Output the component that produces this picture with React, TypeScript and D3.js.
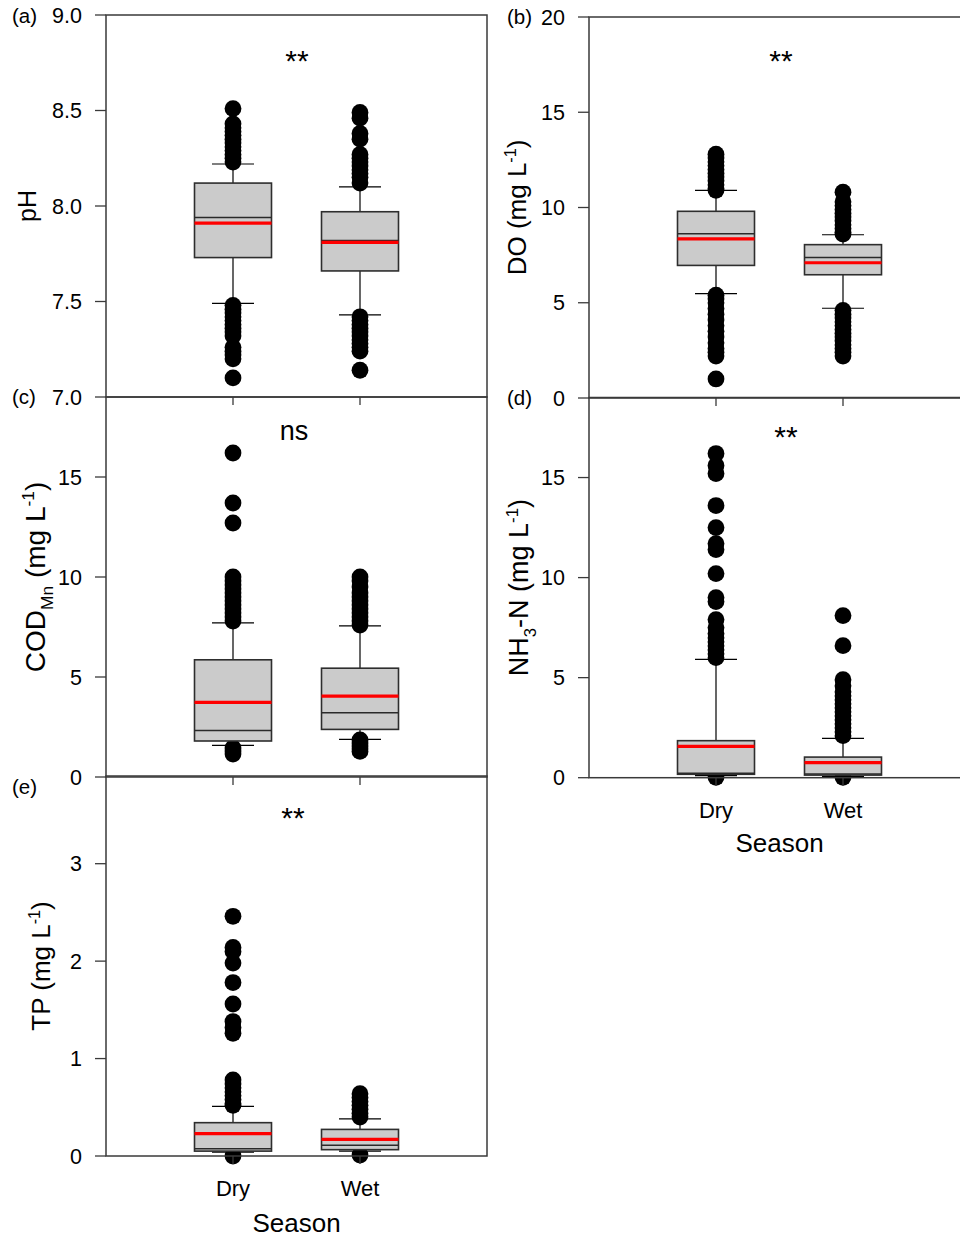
import React from "react";
import * as d3 from "d3";

// ---------------- DATA ----------------
const seasons = ["Dry", "Wet"];

// per season: [lower whisker, Q1, median, Q3, upper whisker, mean]
const pHStats = [
  [7.49, 7.73, 7.94, 8.12, 8.22, 7.91],
  [7.43, 7.66, 7.82, 7.97, 8.10, 7.81],
];
const pHOutliers = [
  [8.51, 8.43, 8.41, 8.39, 8.37, 8.35, 8.33, 8.31, 8.29, 8.27, 8.25, 8.23,
   7.48, 7.46, 7.44, 7.42, 7.40, 7.38, 7.36, 7.34, 7.32, 7.26, 7.24, 7.22, 7.20, 7.10],
  [8.49, 8.46, 8.38, 8.35, 8.27, 8.25, 8.23, 8.21, 8.19, 8.17, 8.15, 8.12,
   7.42, 7.40, 7.38, 7.36, 7.34, 7.32, 7.30, 7.28, 7.26, 7.24, 7.14],
];
const pHTicks = [7.0, 7.5, 8.0, 8.5, 9.0];

const doStats = [
  [5.48, 6.96, 8.62, 9.80, 10.90, 8.35],
  [4.71, 6.47, 7.37, 8.05, 8.57, 7.10],
];
const doOutliers = [
  [12.8, 12.6, 12.4, 12.2, 12.0, 11.8, 11.6, 11.4, 11.2, 11.0, 10.9,
   5.4, 5.2, 5.0, 4.7, 4.4, 4.1, 3.8, 3.5, 3.2, 2.9, 2.6, 2.4, 2.2, 1.0],
  [10.8, 10.3, 10.1, 9.9, 9.7, 9.5, 9.3, 9.1, 8.9, 8.7, 8.6,
   4.6, 4.4, 4.2, 4.0, 3.8, 3.6, 3.4, 3.2, 3.0, 2.8, 2.6, 2.4, 2.2],
];
const doTicks = [0, 5, 10, 15, 20];

const codStats = [
  [1.58, 1.80, 2.32, 5.86, 7.71, 3.73],
  [1.88, 2.38, 3.21, 5.44, 7.56, 4.04],
];
const codOutliers = [
  [16.2, 13.7, 12.7, 10.0, 9.8, 9.6, 9.4, 9.2, 9.0, 8.8, 8.6, 8.4, 8.2, 8.0, 7.8,
   1.45, 1.3, 1.15],
  [10.0, 9.8, 9.5, 9.2, 9.0, 8.8, 8.6, 8.4, 8.2, 8.0, 7.8, 7.6,
   1.85, 1.7, 1.55, 1.4, 1.28],
];
const codTicks = [0, 5, 10, 15];

const nh3Stats = [
  [0.10, 0.17, 0.22, 1.85, 5.91, 1.57],
  [0.06, 0.13, 0.18, 1.03, 1.97, 0.75],
];
const nh3Outliers = [
  [16.2, 15.6, 15.2, 13.6, 12.5, 11.7, 11.4, 10.2, 9.0, 8.8, 7.9, 7.5, 7.2, 7.0,
   6.8, 6.6, 6.4, 6.2, 6.0, 0.02],
  [8.1, 6.6, 4.9, 4.6, 4.3, 4.1, 3.9, 3.7, 3.5, 3.3, 3.1, 2.9, 2.7, 2.5, 2.3, 2.1, 0.02],
];
const nh3Ticks = [0, 5, 10, 15];

const tpStats = [
  [0.04, 0.05, 0.075, 0.342, 0.51, 0.23],
  [0.05, 0.065, 0.11, 0.273, 0.38, 0.17],
];
const tpOutliers = [
  [2.46, 2.14, 2.10, 1.98, 1.78, 1.56, 1.38, 1.32, 1.26, 0.78, 0.74, 0.70, 0.66,
   0.62, 0.58, 0.54, 0.52, 0.0],
  [0.64, 0.60, 0.56, 0.52, 0.48, 0.44, 0.40, 0.01],
];
const tpTicks = [0, 1, 2, 3];

// ---------------- LAYOUT ----------------
const FONT = "'Liberation Sans', Arial, Helvetica, sans-serif";
const PW = 381;
const BOX_W = 77;
const CAP_W = 42;
const DOT_R = 8.4;
const AXIS = "#3a3a3a";

type Seg = { t: string; sub?: boolean; sup?: boolean };

const panels = [
  {
    letter: "(a)", left: 106, top: 15, bottom: 397, domain: [7, 9],
    stats: pHStats, outliers: pHOutliers, ticks: pHTicks, fmt: d3.format(".1f"),
    title: [{ t: "pH" }] as Seg[], titleSize: 25, titleX: 36, titleDy: 0,
    ann: "**", annX: 297, annY: 56, letterDy: 8, letterX: 12, xlabels: false,
  },
  {
    letter: "(b)", left: 589, top: 17, bottom: 398, domain: [0, 20],
    stats: doStats, outliers: doOutliers, ticks: doTicks, fmt: d3.format("d"),
    title: [{ t: "DO (mg L" }, { t: "-1", sup: true }, { t: ")" }] as Seg[],
    titleSize: 26, titleX: 526, titleDy: 0,
    ann: "**", annX: 781, annY: 56, letterDy: 7, letterX: 507, xlabels: false,
  },
  {
    letter: "(c)", left: 106, top: 397, bottom: 777, domain: [0, 19],
    stats: codStats, outliers: codOutliers, ticks: codTicks, fmt: d3.format("d"),
    title: [{ t: "COD" }, { t: "Mn", sub: true }, { t: " (mg L" }, { t: "-1", sup: true }, { t: ")" }] as Seg[],
    titleSize: 28, titleX: 45, titleDy: -10,
    ann: "ns", annX: 294, annY: 432, letterDy: 7, letterX: 12, xlabels: false,
  },
  {
    letter: "(d)", left: 589, top: 397.5, bottom: 777.7, domain: [0, 19],
    stats: nh3Stats, outliers: nh3Outliers, ticks: nh3Ticks, fmt: d3.format("d"),
    title: [{ t: "NH" }, { t: "3", sub: true }, { t: "-N (mg L" }, { t: "-1", sup: true }, { t: ")" }] as Seg[],
    titleSize: 27, titleX: 528, titleDy: 0,
    ann: "**", annX: 786, annY: 432, letterDy: 7, letterX: 507, xlabels: true, seasonDy: 74,
  },
  {
    letter: "(e)", left: 106, top: 776, bottom: 1156, domain: [0, 3.9],
    stats: tpStats, outliers: tpOutliers, ticks: tpTicks, fmt: d3.format("d"),
    title: [{ t: "TP (mg L" }, { t: "-1", sup: true }, { t: ")" }] as Seg[],
    titleSize: 26, titleX: 50, titleDy: 0,
    ann: "**", annX: 293, annY: 813, letterDy: 18, letterX: 12, xlabels: true, seasonDy: 76,
  },
];

function Title({ segs, size, x, y }: { segs: Seg[]; size: number; x: number; y: number }) {
  let cur = 0;
  const parts = segs.map((s, i) => {
    const target = s.sub ? size * 0.28 : s.sup ? -size * 0.38 : 0;
    const dy = target - cur;
    cur = target;
    return (
      <tspan key={i} dy={dy} fontSize={s.sub || s.sup ? size * 0.62 : size}>
        {s.t}
      </tspan>
    );
  });
  return (
    <text transform={`translate(${x},${y}) rotate(-90)`} textAnchor="middle" fontSize={size} fill="#000">
      {parts}
    </text>
  );
}

function Panel({ p }: { p: any }) {
  const y = d3.scaleLinear().domain(p.domain).range([p.bottom, p.top]);
  const x = d3.scalePoint<string>().domain(seasons).range([p.left, p.left + PW]).padding(1);
  const midY = (p.top + p.bottom) / 2;
  return (
    <g>
      {/* outlier dots (behind boxes) */}
      {seasons.map((s, i) =>
        p.outliers[i].map((v: number, j: number) => (
          <circle key={s + j} cx={x(s)} cy={y(v)} r={DOT_R} fill="#000" />
        ))
      )}
      {/* boxes */}
      {seasons.map((s, i) => {
        const [lo, q1, med, q3, hi, mean] = p.stats[i];
        const cx = x(s) as number;
        return (
          <g key={s}>
            <line x1={cx} x2={cx} y1={y(q3)} y2={y(hi)} stroke="#000" strokeWidth={1.2} />
            <line x1={cx} x2={cx} y1={y(q1)} y2={y(lo)} stroke="#000" strokeWidth={1.2} />
            <line x1={cx - CAP_W / 2} x2={cx + CAP_W / 2} y1={y(hi)} y2={y(hi)} stroke="#000" strokeWidth={1.2} />
            <line x1={cx - CAP_W / 2} x2={cx + CAP_W / 2} y1={y(lo)} y2={y(lo)} stroke="#000" strokeWidth={1.2} />
            <rect x={cx - BOX_W / 2} y={y(q3)} width={BOX_W} height={y(q1) - y(q3)}
              fill="#cbcbcb" stroke="#2e2e2e" strokeWidth={1.6} />
            <line x1={cx - BOX_W / 2} x2={cx + BOX_W / 2} y1={y(med)} y2={y(med)} stroke="#2a2a2a" strokeWidth={1.5} />
            <line x1={cx - BOX_W / 2} x2={cx + BOX_W / 2} y1={y(mean)} y2={y(mean)} stroke="#ff0000" strokeWidth={3.2} />
          </g>
        );
      })}
      {/* frame */}
      <rect x={p.left} y={p.top} width={PW} height={p.bottom - p.top} fill="none" stroke={AXIS} strokeWidth={1.5} />
      {/* y ticks */}
      {p.ticks.map((t: number) => (
        <g key={t}>
          <line x1={p.left - 11} x2={p.left} y1={y(t)} y2={y(t)} stroke={AXIS} strokeWidth={1.3} />
          <text x={p.left - 24} y={y(t)} dy="0.35em" textAnchor="end" fontSize={21.5} fill="#000">
            {p.fmt(t)}
          </text>
        </g>
      ))}
      {/* x ticks */}
      {seasons.map((s) => (
        <line key={s} x1={x(s)} x2={x(s)} y1={p.bottom} y2={p.bottom + 8} stroke={AXIS} strokeWidth={1.3} />
      ))}
      {p.xlabels &&
        seasons.map((s) => (
          <text key={s} x={x(s)} y={p.bottom + 40} textAnchor="middle" fontSize={22} fill="#000">
            {s}
          </text>
        ))}
      {p.xlabels && (
        <text x={p.left + PW / 2} y={p.bottom + p.seasonDy} textAnchor="middle" fontSize={26} fill="#000">
          Season
        </text>
      )}
      {/* y title */}
      <Title segs={p.title} size={p.titleSize} x={p.titleX} y={midY + p.titleDy} />
      {/* annotation */}
      <text x={p.annX} y={p.annY + (p.ann === "ns" ? 8 : 15)} textAnchor="middle" fontSize={p.ann === "ns" ? 27 : 30} fill="#000">
        {p.ann}
      </text>
      {/* panel letter */}
      <text x={p.letterX} y={p.top + p.letterDy} fontSize={20.5} fill="#000">
        {p.letter}
      </text>
    </g>
  );
}

export default function App() {
  return (
    <svg width={960} height={1237} style={{ position: "absolute", left: 0, top: 0, background: "#fff" }}
      fontFamily={FONT}>
      <rect x={0} y={0} width={960} height={1237} fill="#fff" />
      {panels.map((p) => (
        <Panel key={p.letter} p={p} />
      ))}
    </svg>
  );
}
